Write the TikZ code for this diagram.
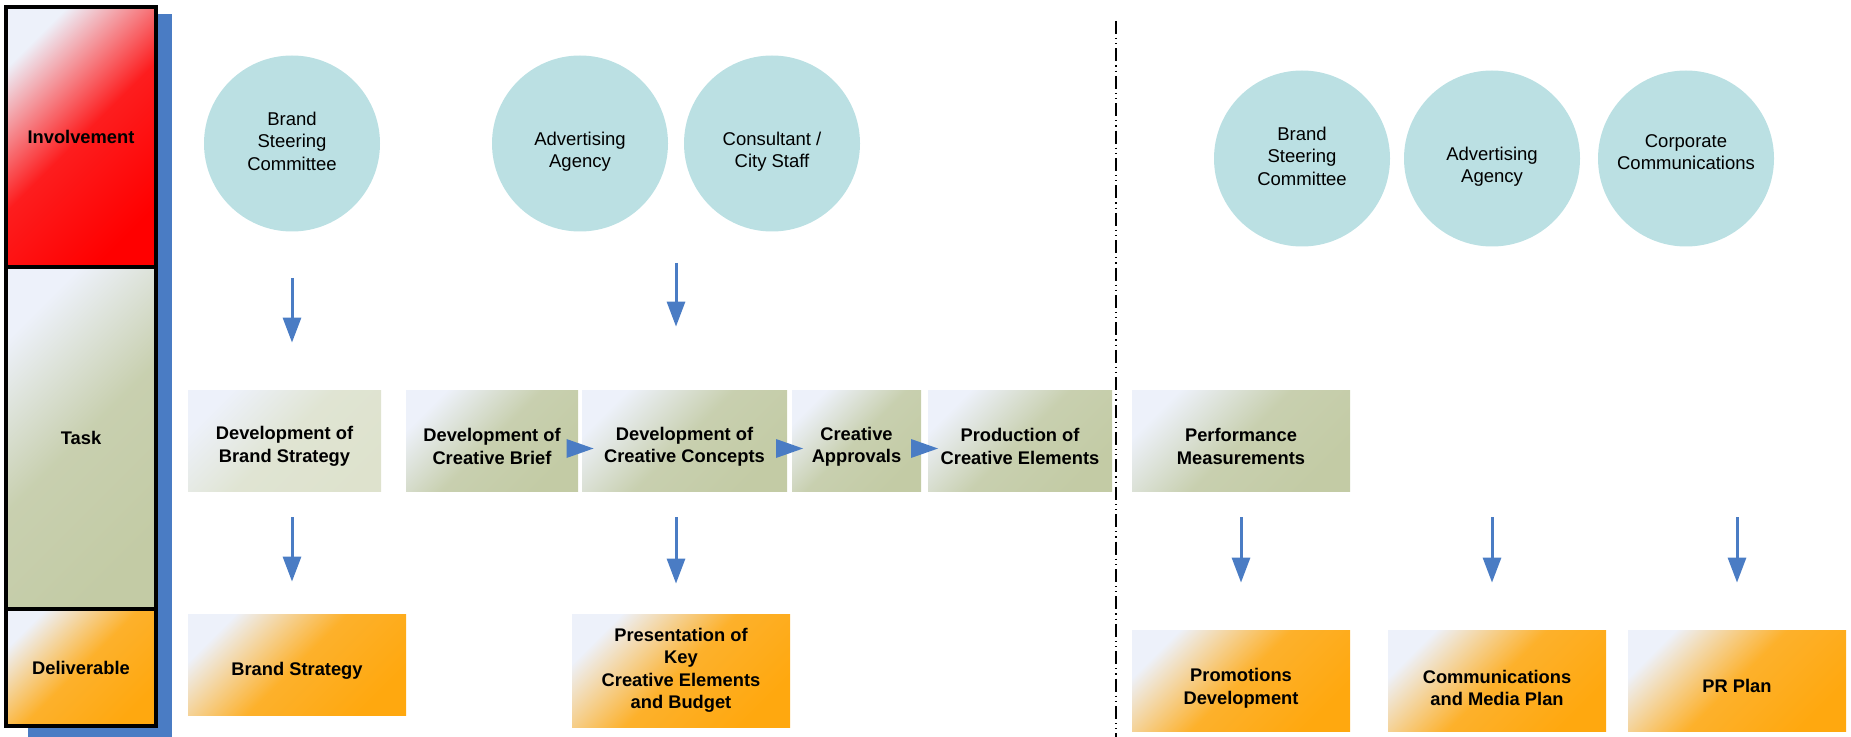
\documentclass[tikz,border=0pt]{standalone}
\usepackage{fontspec}
\setmainfont{Liberation Sans}
\definecolor{BubbleTeal}{HTML}{BBE0E3}
\definecolor{TaskOlive}{HTML}{C3CBA5}
\definecolor{DelivOrange}{HTML}{FFA80F}
\definecolor{FlowBlue}{HTML}{4A7CC4}
\definecolor{PaleTop}{HTML}{EDF1FA}
\usetikzlibrary{positioning,arrows.meta,calc}

\tikzset{
  shadeto/.style={top color=PaleTop, bottom color=#1, middle color=#1!88!PaleTop, shading angle=45},
  boldtext/.style={font=\fontsize{9.15}{11.2}\selectfont\bfseries},
  sink/.style={execute at begin node={\rule{0pt}{#1}}},
  band/.style={draw=black, line width=2pt, minimum width=75pt, inner sep=0pt, boldtext},
  bubble/.style={circle, fill=BubbleTeal, minimum size=88pt, inner sep=0pt},
  bubtext/.style={align=center, inner sep=0pt},
  taskbox/.style={shadeto=TaskOlive, minimum height=50.5pt, inner sep=0pt, align=center, boldtext, sink=23.8pt},
  delbox/.style={shadeto=DelivOrange, minimum width=109pt, minimum height=50.5pt, inner sep=0pt, align=center, boldtext},
  flow/.style={draw=FlowBlue, line width=1.5pt, -{Triangle[width=9pt,length=12.5pt]}, shorten <=13pt},
  divider/.style={line width=0.9pt, dash pattern=on 6.5pt off 2pt on 0.6pt off 2pt on 0.6pt off 2pt}
}

\begin{document}
\begin{tikzpicture}[x=0.5pt, y=-0.5pt, font=\fontsize{9.25}{11.2}\selectfont]
      \useasboundingbox (0,0) rectangle (1851,737);
      % left legend bar
      \fill[FlowBlue] (28,14) rectangle (172,737);
      \node[band, shadeto=red, minimum height=130pt] (inv) at (81,137) {Involvement};
      \node[band, shadeto=TaskOlive, minimum height=171pt] (task) at (81,438) {Task};
      \node[band, shadeto=DelivOrange, minimum height=58.5pt] (deliv) at (81,667.5) {Deliverable};

      % involvement
      \node[bubble] (bscL) at (292,143.5) {};
      \node[bubble] (advL) at (580,143.5) {};
      \node[bubble] (conL) at (772,143.5) {};
      \node[bubble] (bscR) at (1302,158.5) {};
      \node[bubble] (advR) at (1492,158.5) {};
      \node[bubble] (corR) at (1686,158.5) {};
      \node[bubtext] (bscLt) at (292,141) {Brand\\Steering\\Committee};
      \node[bubtext] (advLt) at (580,152) {Advertising\\Agency};
      \node[bubtext] (conLt) at (772,152) {Consultant /\\City Staff};
      \node[bubtext] (bscRt) at (1302,156) {Brand\\Steering\\Committee};
      \node[bubtext] (advRt) at (1492,167) {Advertising\\Agency};
      \node[bubtext] (corRt) at (1686,152) {Corporate\\Communications};

      % tasks
      \node[taskbox, shadeto=TaskOlive!55!white, minimum width=96.5pt] (tBS) at (284.5,440.5) {Development of\\Brand Strategy};
      \node[taskbox, minimum width=86pt] (tCB) at (492,440.5) {Development of\\Creative Brief};
      \node[taskbox, minimum width=102.5pt] (tCC) at (684.5,440.5) {Development of\\Creative Concepts};
      \node[taskbox, minimum width=64.5pt] (tCA) at (856.5,440.5) {Creative\\Approvals};
      \node[taskbox, minimum width=92pt] (tPC) at (1020,440.5) {Production of\\Creative Elements};
      \node[taskbox, minimum width=109pt] (tPM) at (1241,440.5) {Performance\\Measurements};
      \foreach \a/\b in {tCB/tCC, tCC/tCA, tCA/tPC}
        \fill[FlowBlue] ($(\a.east)!0.5!(\b.west)+(0,8)$) ++(-13.5,-9.5) -- ++(27,9.5) -- ++(-27,9.5) -- cycle;

      % deliverables
      \node[delbox, sink=12.5pt] (dBS) at (297,664.5) {Brand Strategy};
      \node[delbox, minimum height=56.5pt] (dPres) at (681,670.5) {Presentation of\\Key\\Creative Elements\\and Budget};
      \node[delbox, sink=25.5pt] (dPD) at (1241,680.5) {Promotions\\Development};
      \node[delbox, sink=25.5pt] (dCM) at (1497,680.5) {Communications\\and Media Plan};
      \node[delbox, sink=12.5pt] (dPR) at (1737,680.5) {PR Plan};

      % flows
      \coordinate (agency) at ($(advL.south)!0.5!(conL.south)$);
      \draw[flow, shorten <=23pt, shorten >=23.5pt] (bscL.south) -- (bscL.south |- tBS.north);
      \draw[flow, shorten <=15.5pt, shorten >=31.5pt] (agency) -- (agency |- tCC.north);
      \draw[flow, shorten >=16pt] (bscL |- tBS.south) -- (bscL |- dBS.north);
      \draw[flow, shorten >=15pt] (agency |- tCC.south) -- (agency |- dPres.north);
      \draw[flow, shorten >=23.5pt] (tPM.south) -- (tPM.south |- dPD.north);
      \draw[flow, shorten >=23.5pt] (advR |- tPM.south) -- (advR |- dCM.north);
      \draw[flow, shorten >=23.5pt] (dPR |- tPM.south) -- (dPR.north);

      % phase divider
      \draw[divider] (1116,21) -- (1116,737);
    \end{tikzpicture}
\end{document}
